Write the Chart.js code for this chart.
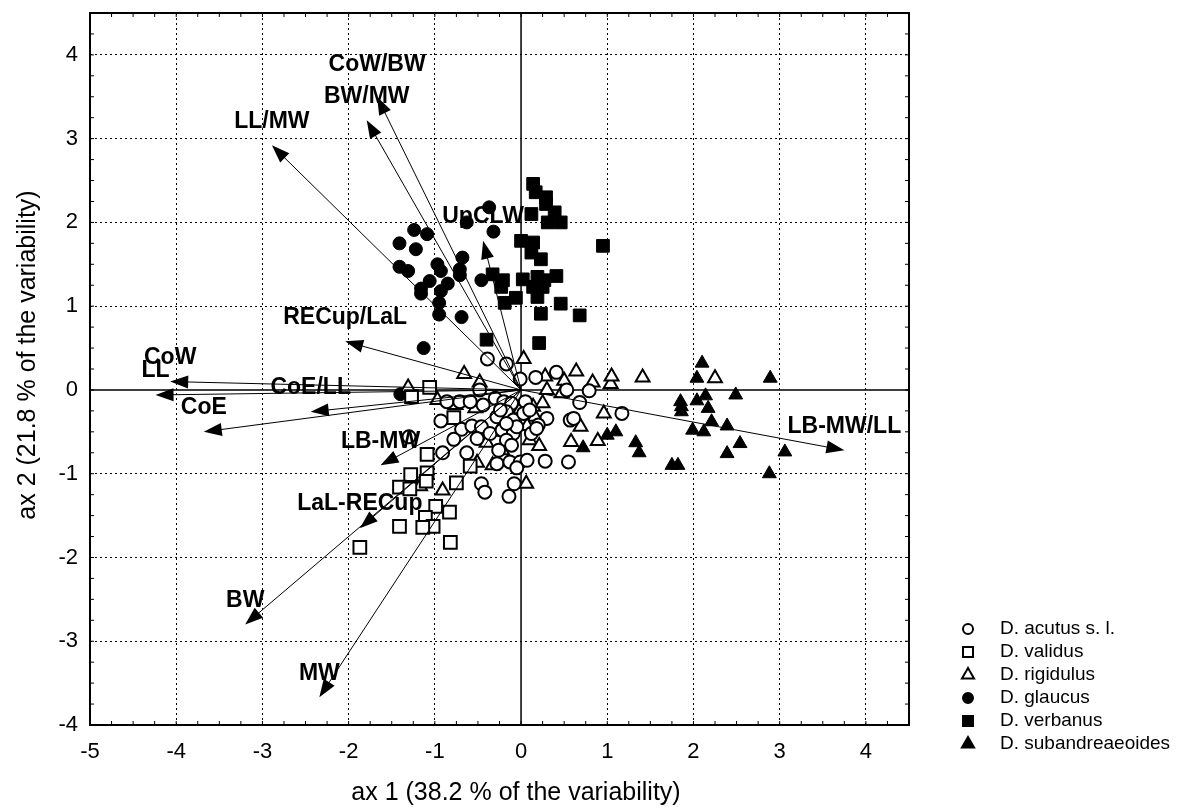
<!DOCTYPE html>
<html lang="en">
<head>
<meta charset="UTF-8">
<title>PCA biplot</title>
<script src="https://cdn.jsdelivr.net/npm/chart.js"></script>
<style>
  html, body { margin: 0; padding: 0; background: #fff; }
  #wrap { width: 1184px; height: 807px; position: relative; }
</style>
</head>
<body>
<div id="wrap"><canvas id="biplot"></canvas></div>
<script>
// species scores [ax1, ax2]
const acutus = [[-0.39,0.37],[-0.17,0.31],[-0.01,0.13],[0.17,0.15],[0.41,0.21],[0.53,0.0],[0.79,-0.01],[0.68,-0.15],[1.17,-0.28],
  [-0.48,0.0],[-0.30,-0.10],[-0.86,-0.14],[-0.71,-0.14],[-0.59,-0.14],[-0.44,-0.18],[-0.20,-0.14],[-0.11,-0.16],[0.05,-0.14],
  [-0.93,-0.37],[-0.69,-0.47],[-0.57,-0.43],[-0.46,-0.44],[-0.28,-0.32],[-0.17,-0.26],[-0.09,-0.36],[0.03,-0.28],[0.10,-0.24],
  [0.30,-0.34],[0.20,-0.42],[0.57,-0.36],[0.61,-0.34],[-0.78,-0.59],[-0.51,-0.58],[-0.36,-0.52],[-0.22,-0.48],[-0.09,-0.52],
  [0.12,-0.52],[-0.17,-0.60],[-0.91,-0.75],[-0.63,-0.75],[-0.26,-0.72],[-0.11,-0.66],[-0.28,-0.88],[-0.13,-0.86],[-0.01,-0.86],
  [0.07,-0.84],[0.28,-0.85],[0.55,-0.86],[-0.05,-0.93],[-0.46,-1.12],[-0.42,-1.22],[-0.08,-1.12],[-0.14,-1.27],[-1.30,-0.56],
  [-0.24,-0.24],[-0.05,-0.44],[-0.17,-0.40],[0.18,-0.46]];
const validus = [[-1.06,0.03],[-1.27,-0.08],[-0.78,-0.33],[-1.09,-0.77],[-1.28,-1.01],[-1.09,-0.99],[-1.41,-1.16],[-1.29,-1.18],
  [-1.10,-1.09],[-0.75,-1.11],[-0.59,-0.91],[-0.99,-1.39],[-0.83,-1.46],[-1.11,-1.52],[-1.41,-1.63],[-1.02,-1.63],[-1.87,-1.88],
  [-0.82,-1.82],[-1.14,-1.64]];
const rigidulus = [[0.03,0.37],[-0.66,0.19],[-0.48,0.09],[-1.31,0.03],[0.28,0.16],[0.50,0.11],[0.64,0.22],[0.83,0.09],[1.04,0.07],
  [1.05,0.16],[1.41,0.15],[2.25,0.14],[0.30,0.0],[0.47,-0.04],[-0.97,-0.12],[-0.76,-0.18],[-0.53,-0.22],[0.14,-0.20],[0.25,-0.16],
  [-0.01,-0.23],[0.16,-0.32],[0.07,-0.43],[-0.26,-0.50],[0.10,-0.60],[-0.40,-0.63],[0.21,-0.67],[-0.22,-0.72],[-0.51,-0.87],
  [-0.33,-0.90],[0.06,-1.12],[-0.91,-1.20],[-1.17,-1.15],[0.96,-0.28],[0.69,-0.44],[0.58,-0.62],[0.89,-0.61]];
const glaucus = [[-0.37,2.18],[-0.63,2.0],[-0.32,1.89],[-1.24,1.91],[-1.09,1.86],[-1.41,1.75],[-1.22,1.68],[-0.68,1.58],[-1.41,1.47],
  [-1.31,1.42],[-0.97,1.50],[-0.93,1.42],[-0.71,1.44],[-0.71,1.37],[-1.06,1.30],[-0.85,1.27],[-1.16,1.21],[-0.93,1.18],[-1.16,1.15],
  [-0.46,1.31],[-0.95,1.04],[-0.95,0.90],[-0.69,0.87],[-1.13,0.50],[-1.40,-0.05]];
const verbanus = [[0.14,2.46],[0.17,2.36],[0.29,2.30],[0.29,2.22],[0.39,2.12],[0.12,2.10],[0.31,2.00],[0.46,2.00],[0.95,1.72],
  [0.00,1.78],[0.14,1.76],[0.12,1.64],[0.23,1.56],[-0.33,1.38],[-0.21,1.31],[-0.23,1.23],[0.02,1.32],[0.19,1.35],[0.27,1.31],
  [0.41,1.36],[0.14,1.23],[0.25,1.23],[0.19,1.11],[-0.06,1.10],[-0.19,1.04],[0.46,1.03],[0.23,0.91],[0.68,0.89],[-0.40,0.60],[0.21,0.56]];
const subandreaeoides = [[2.10,0.32],[2.04,0.14],[2.89,0.14],[2.14,-0.07],[2.49,-0.06],[1.85,-0.14],[2.04,-0.13],[1.86,-0.26],
  [2.17,-0.22],[2.21,-0.38],[2.39,-0.43],[1.99,-0.48],[2.12,-0.50],[2.54,-0.64],[3.06,-0.74],[2.39,-0.76],[1.75,-0.90],[1.82,-0.90],
  [2.88,-1.00],[1.00,-0.54],[1.10,-0.50],[1.33,-0.63],[1.37,-0.75],[0.72,-0.69],[1.86,-0.20]];

const speciesNames = ['D. acutus s. l.', 'D. validus', 'D. rigidulus', 'D. glaucus', 'D. verbanus', 'D. subandreaeoides'];

// variable loadings (arrow tips)
const varNames = ['CoW/BW', 'BW/MW', 'LL/MW', 'UpCLW', 'RECup/LaL', 'CoW', 'LL', 'CoE/LL', 'CoE', 'LB-MW', 'LaL-RECup', 'BW', 'MW', 'LB-MW/LL'];
const varX = [-1.67, -1.79, -2.89, -0.44, -2.04, -4.07, -4.24, -2.44, -3.68, -1.63, -1.87, -3.20, -2.34, 3.75];
const varY = [3.50, 3.22, 2.92, 1.78, 0.58, 0.10, -0.06, -0.26, -0.50, -0.90, -1.65, -2.80, -3.67, -0.72];

const xTitle = 'ax 1 (38.2 % of the variability)';
const yTitle = 'ax 2 (21.8 % of the variability)';

const FONT = "'Liberation Sans', Arial, Helvetica, sans-serif";

// marker look per species: style, filled
const markers = [
  ['circle', false], ['rect', false], ['triangle', false],
  ['circle', true], ['rect', true], ['triangle', true]
];
const radiusFor = { circle: 6.5, rect: 9, triangle: 8 };

function species(i, pts) {
  const [style, filled] = markers[i];
  return {
    label: speciesNames[i],
    data: pts.map(p => ({ x: p[0], y: p[1] })),
    pointStyle: style,
    pointRadius: radiusFor[style],
    pointHoverRadius: radiusFor[style],
    pointBackgroundColor: filled ? '#000' : '#fff',
    pointBorderColor: '#000',
    pointBorderWidth: filled ? 1 : 2,
    showLine: false
  };
}

function drawMarker(ctx, style, filled, x, y) {
  ctx.beginPath();
  if (style === 'circle') {
    ctx.arc(x, y, 5, 0, Math.PI * 2);
  } else if (style === 'rect') {
    ctx.rect(x - 5, y - 5, 10, 10);
  } else {
    const r = 7;
    ctx.moveTo(x, y - r);
    ctx.lineTo(x + r * 0.866, y + r * 0.5);
    ctx.lineTo(x - r * 0.866, y + r * 0.5);
    ctx.closePath();
  }
  ctx.fillStyle = filled ? '#000' : '#fff';
  ctx.fill();
  ctx.lineWidth = 2;
  ctx.strokeStyle = '#000';
  ctx.stroke();
}

function arrow(ctx, x0, y0, x1, y1) {
  const a = Math.atan2(y1 - y0, x1 - x0);
  const len = 18, half = 6.5;
  ctx.beginPath();
  ctx.moveTo(x0, y0);
  ctx.lineTo(x1 - Math.cos(a) * len * 0.7, y1 - Math.sin(a) * len * 0.7);
  ctx.stroke();
  ctx.beginPath();
  ctx.moveTo(x1, y1);
  ctx.lineTo(x1 - len * Math.cos(a) + half * Math.sin(a), y1 - len * Math.sin(a) - half * Math.cos(a));
  ctx.lineTo(x1 - len * Math.cos(a) - half * Math.sin(a), y1 - len * Math.sin(a) + half * Math.cos(a));
  ctx.closePath();
  ctx.fill();
}

// extra lift for labels that sit too close together
const labelLift = { 'CoW/BW': 8 };

const biplotDecor = {
  id: 'biplotDecor',
  beforeDatasetsDraw(chart) {
    const { ctx, chartArea: a, scales: { x, y } } = chart;
    ctx.save();
    ctx.strokeStyle = '#000';
    ctx.lineWidth = 1.5;
    ctx.beginPath();
    ctx.moveTo(x.getPixelForValue(0), a.top);
    ctx.lineTo(x.getPixelForValue(0), a.bottom);
    ctx.moveTo(a.left, y.getPixelForValue(0));
    ctx.lineTo(a.right, y.getPixelForValue(0));
    ctx.stroke();
    ctx.restore();
  },
  afterDatasetsDraw(chart) {
    const { ctx, scales: { x, y } } = chart;
    const ox = x.getPixelForValue(0), oy = y.getPixelForValue(0);
    ctx.save();
    ctx.strokeStyle = '#000';
    ctx.fillStyle = '#000';
    ctx.lineWidth = 1;
    varNames.forEach((n, i) => {
      arrow(ctx, ox, oy, x.getPixelForValue(varX[i]), y.getPixelForValue(varY[i]));
    });
    ctx.font = 'bold 23px ' + FONT;
    ctx.textAlign = 'center';
    ctx.textBaseline = 'middle';
    varNames.forEach((n, i) => {
      const px = x.getPixelForValue(varX[i]);
      const py = y.getPixelForValue(varY[i]) - 24 - (labelLift[n] || 0);
      ctx.fillText(n, px, py);
    });
    ctx.restore();
  },
  afterDraw(chart) {
    const { ctx, chartArea: a, scales: { x, y } } = chart;
    ctx.save();
    // frame
    ctx.strokeStyle = '#000';
    ctx.lineWidth = 2;
    ctx.strokeRect(a.left, a.top, a.right - a.left, a.bottom - a.top);
    // minor ticks every 0.25, pointing inwards
    ctx.lineWidth = 1;
    ctx.beginPath();
    for (let v = -5; v <= 4.5; v += 0.25) {
      const px = x.getPixelForValue(v);
      ctx.moveTo(px, a.bottom); ctx.lineTo(px, a.bottom - 4);
      ctx.moveTo(px, a.top); ctx.lineTo(px, a.top + 4);
    }
    for (let v = -4; v <= 4.5; v += 0.25) {
      const py = y.getPixelForValue(v);
      ctx.moveTo(a.left, py); ctx.lineTo(a.left + 4, py);
      ctx.moveTo(a.right, py); ctx.lineTo(a.right - 4, py);
    }
    ctx.stroke();
    // axis titles
    ctx.fillStyle = '#000';
    ctx.font = '25px ' + FONT;
    ctx.textAlign = 'center';
    ctx.textBaseline = 'middle';
    ctx.fillText(xTitle, 516, 793);
    ctx.translate(28, 355);
    ctx.rotate(-Math.PI / 2);
    ctx.fillText(yTitle, 0, 0);
    ctx.restore();
    // legend
    ctx.save();
    ctx.font = '19px ' + FONT;
    ctx.textAlign = 'left';
    ctx.textBaseline = 'middle';
    chart.data.datasets.forEach((ds, i) => {
      const ry = 629 + i * 23;
      drawMarker(ctx, markers[i][0], markers[i][1], 968, ry);
      ctx.fillStyle = '#000';
      ctx.fillText(ds.label, 1000, ry);
    });
    ctx.restore();
  }
};

Chart.defaults.font.family = FONT;
Chart.defaults.color = '#000';

const ctx = document.getElementById('biplot').getContext('2d');
new Chart(ctx, {
  type: 'scatter',
  data: {
    datasets: [
      species(0, acutus), species(1, validus), species(2, rigidulus),
      species(3, glaucus), species(4, verbanus), species(5, subandreaeoides)
    ]
  },
  options: {
    responsive: true,
    maintainAspectRatio: false,
    animation: false,
    layout: { padding: { top: 13, right: 275, bottom: 0, left: 0 } },
    plugins: { legend: { display: false }, tooltip: { enabled: false } },
    scales: {
      x: {
        type: 'linear',
        min: -5, max: 4.5,
        afterFit(scale) { scale.height = 82; scale.paddingLeft = 0; scale.paddingRight = 0; },
        ticks: { stepSize: 1, includeBounds: false, padding: 14, font: { size: 22 }, color: '#000' },
        grid: { color: c => c.tick && c.tick.value === 0 ? 'rgba(0,0,0,0)' : '#000', lineWidth: 1, drawTicks: false },
        border: { display: false, dash: [2, 3] }
      },
      y: {
        type: 'linear',
        min: -4, max: 4.5,
        afterFit(scale) { scale.width = 90; scale.paddingTop = 0; scale.paddingBottom = 0; },
        ticks: { stepSize: 1, includeBounds: false, padding: 12, font: { size: 22 }, color: '#000' },
        grid: { color: c => c.tick && c.tick.value === 0 ? 'rgba(0,0,0,0)' : '#000', lineWidth: 1, drawTicks: false },
        border: { display: false, dash: [2, 3] }
      }
    }
  },
  plugins: [biplotDecor]
});
</script>
</body>
</html>
